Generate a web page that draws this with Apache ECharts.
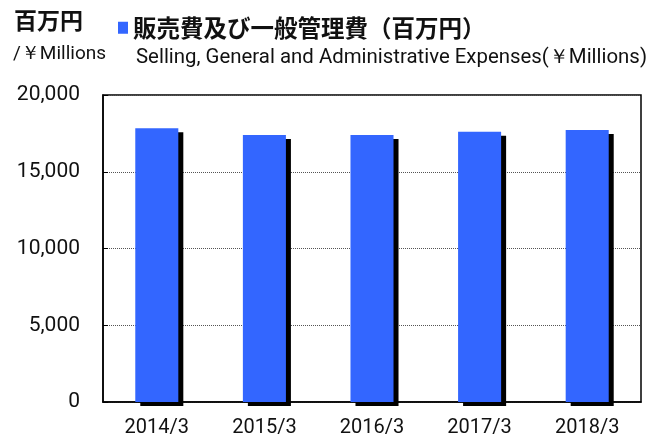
<!DOCTYPE html>
<html>
<head>
<meta charset="utf-8">
<script src="https://cdn.jsdelivr.net/npm/echarts@6/dist/echarts.min.js"></script>
<style>
  html, body { margin: 0; padding: 0; background: #fff; }
  #main { width: 652px; height: 445px; }
</style>
</head>
<body>
<div id="main"></div>
<script>
// 年度と販売費及び一般管理費（百万円）
const years = ['2014/3', '2015/3', '2016/3', '2017/3', '2018/3']
const sgaValues = [17830, 17390, 17400, 17610, 17720]
const yTicks = [0, 5000, 10000, 15000, 20000]

const narrow = "Roboto, 'Liberation Sans', sans-serif"
const cjk = "'Noto Sans CJK JP', 'Noto Sans CJK SC', sans-serif"

let myChart = echarts.init(document.getElementById('main'))
myChart.setOption({
  animation: false,
  title: [
    {
      text: '百万円',
      left: 9, top: 4,
      textStyle: { fontFamily: cjk, fontSize: 23, fontWeight: 'bold', color: '#111' }
    },
    {
      text: '/￥Millions',
      left: 8, top: 40,
      textStyle: { fontFamily: narrow, fontSize: 19, fontWeight: 'normal', color: '#111' }
    },
    {
      text: 'Selling, General and Administrative Expenses(￥Millions)',
      left: 131, top: 43,
      textStyle: { fontFamily: narrow, fontSize: 20.4, fontWeight: 'normal', color: '#111' }
    }
  ],
  legend: {
    left: 113, top: 11,
    itemWidth: 10, itemHeight: 12, itemGap: 4,
    icon: 'rect',
    textStyle: { fontFamily: cjk, fontSize: 23.5, fontWeight: 'bold', color: '#111' },
    data: ['販売費及び一般管理費（百万円）']
  },
  grid: {
    left: 103, right: 11, top: 95, bottom: 43,
    show: true, borderColor: '#000', borderWidth: 1.5
  },
  xAxis: {
    type: 'category',
    data: years,
    axisLine: { lineStyle: { color: '#000', width: 1.5 } },
    axisTick: { inside: true, length: 6, lineStyle: { color: '#000' } },
    axisLabel: { fontFamily: narrow, fontSize: 20, color: '#111', margin: 16 }
  },
  yAxis: {
    type: 'value',
    min: yTicks[0], max: yTicks[yTicks.length - 1], interval: 5000,
    axisLine: { show: true, lineStyle: { color: '#000', width: 1.5 } },
    axisTick: { show: true, inside: true, length: 5, lineStyle: { color: '#000' } },
    splitLine: { lineStyle: { color: '#555', type: [1, 1], width: 1 } },
    axisLabel: { fontFamily: narrow, fontSize: 21, color: '#111', margin: 23 }
  },
  series: [{
    name: '販売費及び一般管理費（百万円）',
    type: 'bar',
    data: sgaValues,
    barWidth: '40%',
    clip: false,
    itemStyle: {
      color: '#3366FF',
      shadowColor: '#000',
      shadowBlur: 0,
      shadowOffsetX: 5,
      shadowOffsetY: 4
    }
  }]
})
</script>
</body>
</html>
